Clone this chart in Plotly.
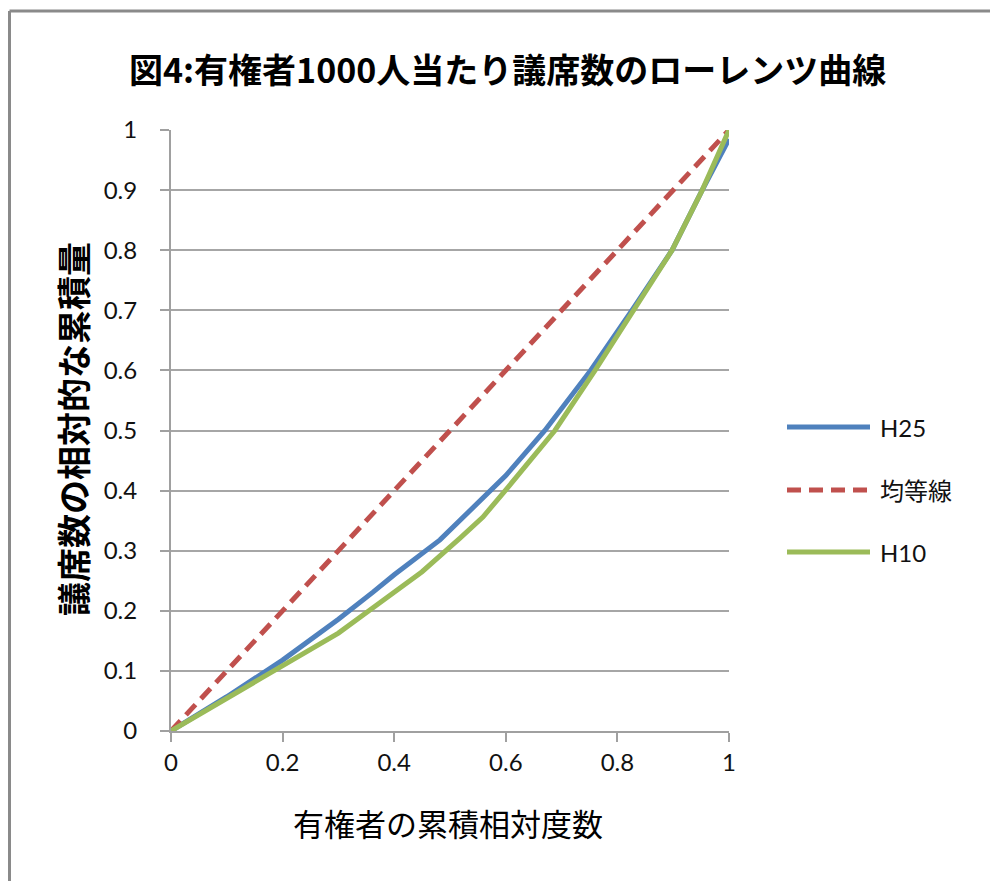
import plotly.graph_objects as go

# Cumulative relative frequency of voters (x) vs cumulative share of seats (y)
h25_x = [0, 0.1, 0.2, 0.3, 0.362, 0.4, 0.482, 0.518, 0.572, 0.6, 0.67, 0.752, 0.826, 0.898, 0.952, 1.0]
h25_y = [0, 0.057, 0.118, 0.186, 0.231, 0.26, 0.318, 0.351, 0.4, 0.425, 0.5, 0.6, 0.7, 0.8, 0.9, 0.985]

equal_x = [0, 1]
equal_y = [0, 1]

h10_x = [0, 0.1, 0.2, 0.3, 0.362, 0.45, 0.518, 0.559, 0.599, 0.688, 0.76, 0.828, 0.898, 0.952, 1.0]
h10_y = [0, 0.055, 0.11, 0.163, 0.205, 0.265, 0.321, 0.356, 0.4, 0.5, 0.6, 0.7, 0.8, 0.9, 1.0]

series_names = ["H25", "均等線", "H10"]
series_colors = ["#4f81bd", "#c0504d", "#9bbb59"]
series_dash = ["solid", "dash", "solid"]

title_text = "図4:有権者1000人当たり議席数のローレンツ曲線"
x_title = "有権者の累積相対度数"
y_title = "議席数の相対的な累積量"

tick_vals_y = [0, 0.1, 0.2, 0.3, 0.4, 0.5, 0.6, 0.7, 0.8, 0.9, 1]
tick_text_y = ["0", "0.1", "0.2", "0.3", "0.4", "0.5", "0.6", "0.7", "0.8", "0.9", "1"]
tick_vals_x = [0, 0.2, 0.4, 0.6, 0.8, 1]
tick_text_x = ["0", "0.2", "0.4", "0.6", "0.8", "1"]

W, H = 990, 881
ML, MR, MT, MB = 171, 261, 130, 150
PW, PH = W - ML - MR, H - MT - MB


def px_to_paper(px, py):
    return (px - ML) / PW, (H - MB - py) / PH


fig = go.Figure()
for name, xs, ys, col, dash in zip(series_names,
                                   [h25_x, equal_x, h10_x],
                                   [h25_y, equal_y, h10_y],
                                   series_colors, series_dash):
    fig.add_trace(go.Scatter(
        x=xs, y=ys, name=name, mode="lines",
        line=dict(color=col, width=5, dash="14px,8px" if dash == "dash" else "solid"),
        showlegend=False,
    ))

# Legend drawn on the right side with long sample lines
shapes = []
annotations = []
legend_rows_py = [427, 490, 552]
for name, col, dash, py in zip(series_names, series_colors, series_dash, legend_rows_py):
    x0, y0 = px_to_paper(787, py)
    x1, _ = px_to_paper(870, py)
    shapes.append(dict(type="line", xref="paper", yref="paper", x0=x0, x1=x1, y0=y0, y1=y0,
                       line=dict(color=col, width=5, dash="14px,8px" if dash == "dash" else "solid")))
    tx, _ = px_to_paper(878, py)
    annotations.append(dict(text=name, xref="paper", yref="paper", x=tx, y=y0,
                            xanchor="left", yanchor="middle", showarrow=False,
                            font=dict(family="Lato, 'Noto Sans CJK JP'", size=24, color="#111")))

# Outer chart frame (top and left edges)
bx, by = px_to_paper(9.5, 11)
shapes.append(dict(type="line", xref="paper", yref="paper", x0=bx, x1=2, y0=by, y1=by,
                   line=dict(color="#8a8a8a", width=3)))
shapes.append(dict(type="line", xref="paper", yref="paper", x0=bx, x1=bx, y0=-1, y1=by,
                   line=dict(color="#8a8a8a", width=3)))

# Title
tx, ty = px_to_paper(507, 68)
annotations.append(dict(text="<b>" + title_text + "</b>", xref="paper", yref="paper", x=tx, y=ty,
                        xanchor="center", yanchor="middle", showarrow=False,
                        font=dict(family="'Noto Sans CJK JP'", size=34, color="#000")))

# Axis titles
ax, ay = px_to_paper(448, 822)
annotations.append(dict(text=x_title, xref="paper", yref="paper", x=ax, y=ay,
                        xanchor="center", yanchor="middle", showarrow=False,
                        font=dict(family="'Noto Sans CJK JP'", size=31, color="#000")))
yx, yy = px_to_paper(72, 429)
annotations.append(dict(text="<b>" + y_title + "</b>", xref="paper", yref="paper", x=yx, y=yy,
                        xanchor="center", yanchor="middle", showarrow=False, textangle=-90,
                        font=dict(family="'Noto Sans CJK JP'", size=34, color="#000")))

fig.update_layout(
    width=W, height=H,
    margin=dict(l=ML, r=MR, t=MT, b=MB),
    paper_bgcolor="white", plot_bgcolor="white",
    shapes=shapes, annotations=annotations,
    showlegend=False,
)
fig.update_xaxes(
    range=[0, 1], tickvals=tick_vals_x, ticktext=tick_text_x,
    showgrid=False, zeroline=False,
    showline=True, linecolor="#a0a0a0", linewidth=2,
    ticks="outside", ticklen=9, tickwidth=2, tickcolor="#a0a0a0",
    tickfont=dict(family="Lato", size=24, color="#111"),
)
fig.update_yaxes(
    range=[0, 1], tickvals=tick_vals_y, ticktext=tick_text_y,
    showgrid=True, gridcolor="#a6a6a6", gridwidth=2, zeroline=False,
    showline=True, linecolor="#a0a0a0", linewidth=2,
    ticks="outside", ticklen=9, tickwidth=2, tickcolor="#a0a0a0",
    tickfont=dict(family="Lato", size=24, color="#111"),
    ticklabelstandoff=18,
)

fig.write_html("out.html")
